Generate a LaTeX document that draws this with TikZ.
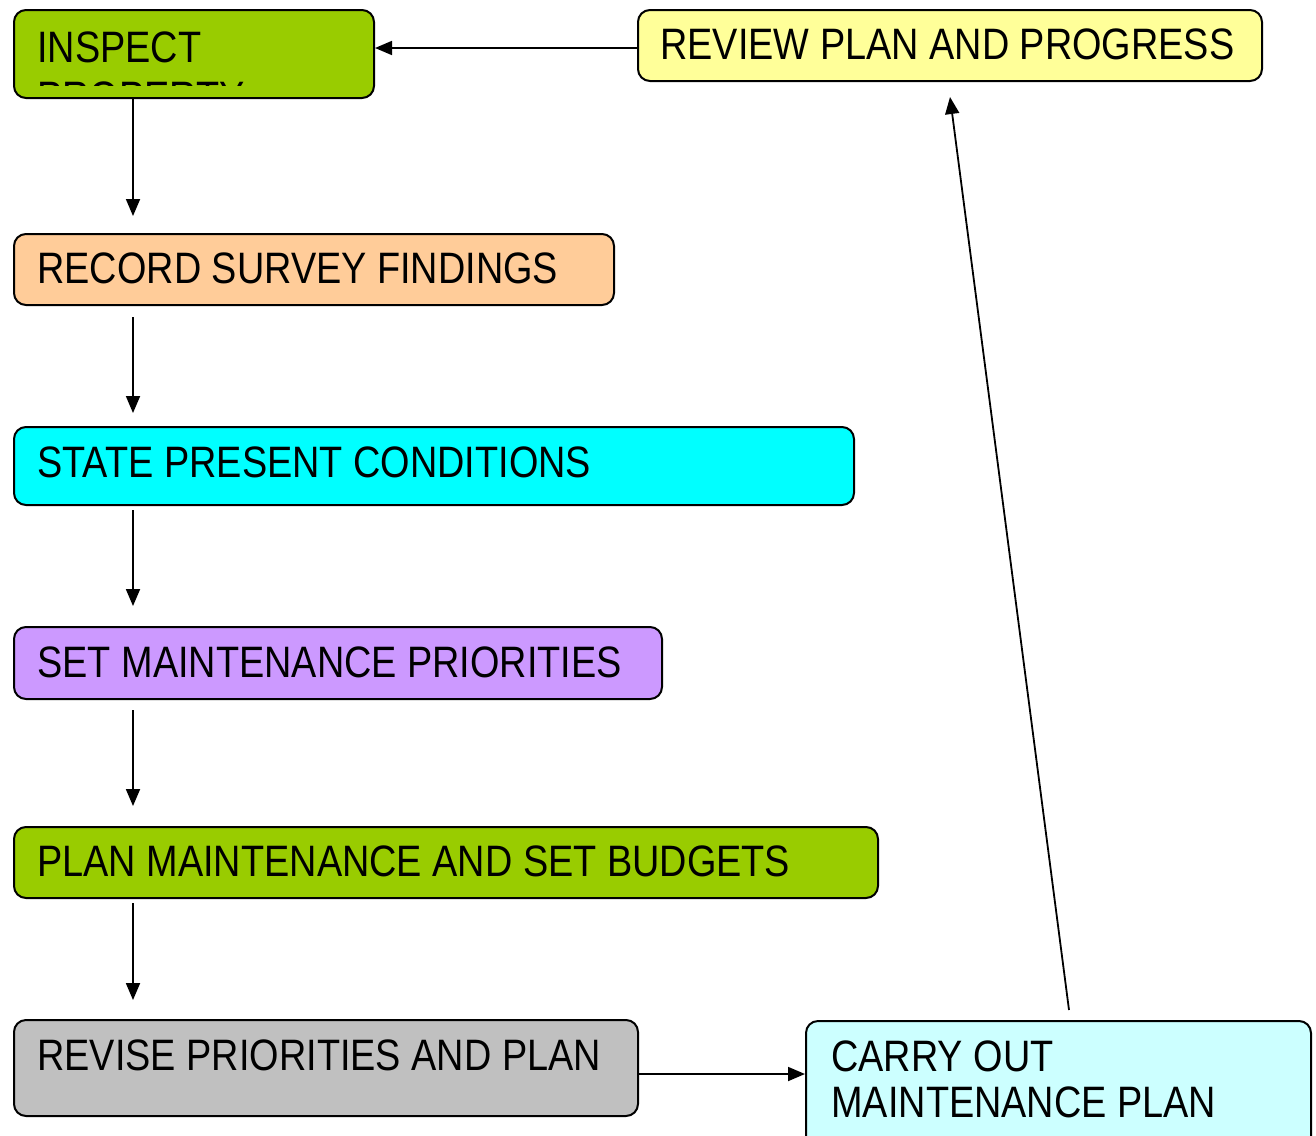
\documentclass[tikz,border=0pt]{standalone}
\usepackage{fontspec}
\setmainfont[FakeStretch=0.86]{Liberation Sans}
\usetikzlibrary{arrows.meta,calc}
\definecolor{cgreen}{HTML}{99CC00}
\definecolor{cyellow}{HTML}{FFFF99}
\definecolor{corange}{HTML}{FFCC99}
\definecolor{ccyan}{HTML}{00FFFF}
\definecolor{clav}{HTML}{CC99FF}
\definecolor{cgray}{HTML}{C0C0C0}
\definecolor{clcyan}{HTML}{CCFFFF}
\tikzset{
  box/.style={draw=black, line width=1pt, rounded corners=6pt, anchor=north west, inner sep=0pt},
  lbl/.style={anchor=base west, inner sep=0pt, font=\fontsize{22pt}{26pt}\selectfont},
  flow/.style={-{Triangle[length=8.5pt,width=7pt]}, line width=0.9pt}
}
\begin{document}
\begin{tikzpicture}[x=0.5pt,y=-0.5pt]
\useasboundingbox (0,0) rectangle (1316,1135);
\clip (0,0) rectangle (1316,1135);
% boxes
\node[box, fill=cgreen, minimum width=180pt, minimum height=44pt] (insp) at (13,9) {};
\node[box, fill=cyellow, minimum width=312pt, minimum height=35.5pt] (rev) at (637,9) {};
\node[box, fill=corange, minimum width=300pt, minimum height=35.5pt] (rec) at (13,233) {};
\node[box, fill=ccyan, minimum width=420pt, minimum height=39pt] (state) at (13,426) {};
\node[box, fill=clav, minimum width=324pt, minimum height=36pt] (setp) at (13,626) {};
\node[box, fill=cgreen, minimum width=432pt, minimum height=35.5pt] (plan) at (13,826) {};
\node[box, fill=cgray, minimum width=312pt, minimum height=48pt] (revise) at (13,1019) {};
\node[box, fill=clcyan, minimum width=252.5pt, minimum height=70pt] (carry) at (805,1020) {};
% texts
\node[lbl] (tinsp) at (37,62) {INSPECT};
\begin{scope}
  \clip (15,11) rectangle (371,85);
  \node[lbl] (tinsp2) at (37,112) {PROPERTY};
\end{scope}
\node[lbl] (trev) at (660,59) {REVIEW PLAN AND PROGRESS};
\node[lbl] (trec) at (37,283) {RECORD SURVEY FINDINGS};
\node[lbl] (tstate) at (37,477) {STATE PRESENT CONDITIONS};
\node[lbl] (tset) at (37,677) {SET MAINTENANCE PRIORITIES};
\node[lbl] (tplan) at (37,876) {PLAN MAINTENANCE AND SET BUDGETS};
\node[lbl] (trevise) at (37,1070) {REVISE PRIORITIES AND PLAN};
\node[lbl] (tcarry1) at (831,1071) {CARRY OUT};
\node[lbl] (tcarry2) at (831,1117) {MAINTENANCE PLAN};
% connectors
\coordinate (a1s) at (133,97);
\coordinate (a1e) at (133,216);
\coordinate (a2s) at (133,317);
\coordinate (a2e) at (133,413);
\coordinate (a3s) at (133,510);
\coordinate (a3e) at (133,606);
\coordinate (a4s) at (133,710);
\coordinate (a4e) at (133,806);
\coordinate (a5s) at (133,903);
\coordinate (a5e) at (133,1000);
\coordinate (a6s) at (1069,1010);
\coordinate (a6e) at (950,97);
\draw[flow] (rev.west |- 0,48) -- (insp.east |- 0,48);
\draw[flow] (a1s) -- (a1e);
\draw[flow] (a2s) -- (a2e);
\draw[flow] (a3s) -- (a3e);
\draw[flow] (a4s) -- (a4e);
\draw[flow] (a5s) -- (a5e);
\draw[flow] (revise.east |- 0,1074) -- (carry.west |- 0,1074);
\draw[flow] (a6s) -- (a6e);
\end{tikzpicture}
\end{document}
